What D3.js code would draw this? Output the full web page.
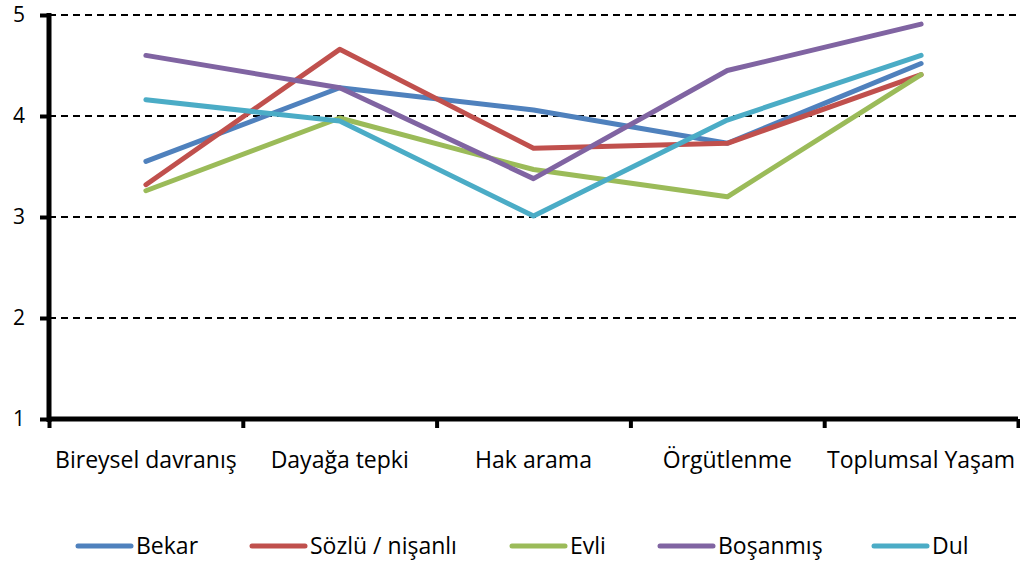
<!DOCTYPE html>
<html>
<head>
<meta charset="utf-8">
<script src="https://cdn.jsdelivr.net/npm/d3@7"></script>
<style>
  body { margin: 0; background: #fff; }
  svg text { font-family: "Open Sans", Lato, sans-serif; fill: #000; }
</style>
</head>
<body>
<svg id="chart"></svg>
<script>
const categories = ["Bireysel davranış", "Dayağa tepki", "Hak arama", "Örgütlenme", "Toplumsal Yaşam"];
const seriesNames = ["Bekar", "Sözlü / nişanlı", "Evli", "Boşanmış", "Dul"];
const colors = ["#4F81BD", "#C0504D", "#9BBB59", "#8064A2", "#4BACC6"];

const bekar    = [3.55, 4.28, 4.06, 3.73, 4.52];
const sozlu    = [3.32, 4.66, 3.68, 3.73, 4.41];
const evli     = [3.26, 3.98, 3.47, 3.20, 4.41];
const bosanmis = [4.60, 4.28, 3.38, 4.45, 4.91];
const dul      = [4.16, 3.95, 3.01, 3.96, 4.60];

const yTicks = [1, 2, 3, 4, 5];

const series = [bekar, sozlu, evli, bosanmis, dul].map((values, i) => ({
    name: seriesNames[i],
    color: colors[i],
    values: values
}));

const width = 1020, height = 565;
const margin = { top: 15, right: 2, bottom: 146, left: 49 };

const svg = d3.select("#chart")
    .attr("width", width)
    .attr("height", height);

const xScale = d3.scaleBand()
    .domain(categories)
    .range([margin.left, width - margin.right]);

const xEdge = d3.scaleLinear()
    .domain([0, categories.length])
    .range([margin.left, width - margin.right]);

const yScale = d3.scaleLinear()
    .domain([1, 5])
    .range([height - margin.bottom, margin.top]);

// dashed grid lines
svg.append("g")
    .selectAll("line")
    .data(yTicks.filter(d => d > 1))
    .join("line")
    .attr("x1", margin.left)
    .attr("x2", width - margin.right)
    .attr("y1", d => yScale(d))
    .attr("y2", d => yScale(d))
    .attr("stroke", "#000")
    .attr("stroke-width", 2)
    .attr("stroke-dasharray", "7,5");

// series lines
const line = d3.line()
    .x((d, i) => xScale(categories[i]) + xScale.bandwidth() / 2)
    .y(d => yScale(d));

svg.append("g")
    .selectAll("path")
    .data(series)
    .join("path")
    .attr("d", d => line(d.values))
    .attr("fill", "none")
    .attr("stroke", d => d.color)
    .attr("stroke-width", 5)
    .attr("stroke-linecap", "round")
    .attr("stroke-linejoin", "round");

// y axis
const yAxis = svg.append("g")
    .attr("transform", `translate(${margin.left}, 0)`)
    .call(d3.axisLeft(yScale).tickValues(yTicks).tickFormat(d3.format("d")).tickSize(9).tickPadding(15));

yAxis.select(".domain")
    .attr("d", `M0,${margin.top - 2}V${height - margin.bottom + 3}`)
    .attr("stroke", "#000")
    .attr("stroke-width", 5);
yAxis.selectAll(".tick line").attr("stroke-width", 4);
yAxis.selectAll(".tick text")
    .style("font-size", "21px")
    .attr("font-family", null);

// x axis: tick marks at category boundaries
const xAxis = svg.append("g")
    .attr("transform", `translate(0, ${height - margin.bottom})`)
    .call(d3.axisBottom(xEdge).tickValues(d3.range(categories.length + 1)).tickFormat("").tickSize(9));

xAxis.select(".domain")
    .attr("d", `M${margin.left - 2},0H${width - margin.right}`)
    .attr("stroke", "#000")
    .attr("stroke-width", 5);
xAxis.selectAll(".tick line").attr("stroke-width", 4);

// category labels
const xLabels = svg.append("g")
    .attr("transform", `translate(0, ${height - margin.bottom})`)
    .call(d3.axisBottom(xScale).tickSize(0).tickPadding(33));

xLabels.select(".domain").remove();
xLabels.selectAll(".tick text")
    .style("font-size", "23px")
    .attr("font-family", null);

// legend
const legendX = [78, 252, 512, 660, 874];
const legendY = 546;

const legend = svg.append("g")
    .selectAll("g")
    .data(series)
    .join("g")
    .attr("transform", (d, i) => `translate(${legendX[i]}, ${legendY})`);

legend.append("line")
    .attr("x1", 0)
    .attr("x2", 53)
    .attr("stroke", d => d.color)
    .attr("stroke-width", 5)
    .attr("stroke-linecap", "round");

legend.append("text")
    .attr("x", 58)
    .attr("dy", "0.35em")
    .style("font-size", "23px")
    .text(d => d.name);
</script>
</body>
</html>
